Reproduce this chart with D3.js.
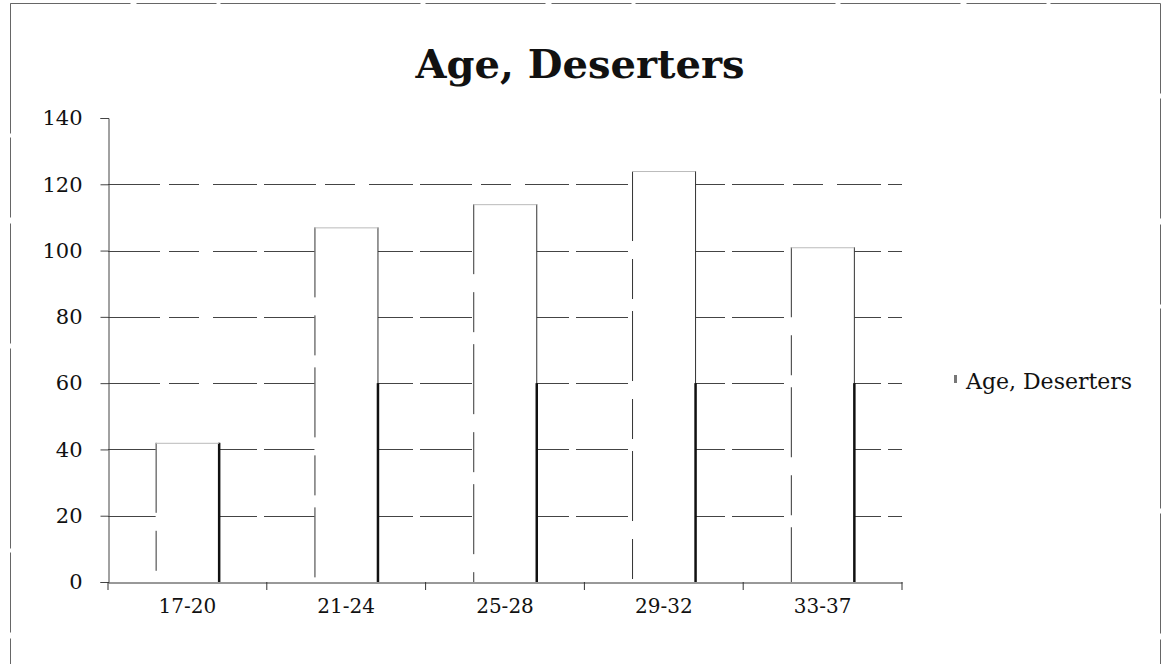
<!DOCTYPE html>
<html>
<head>
<meta charset="utf-8">
<script src="https://cdn.jsdelivr.net/npm/d3@7"></script>
<style>
  html, body { margin: 0; padding: 0; background: #fff; }
  svg { display: block; }
  text { font-family: "DejaVu Serif", "Liberation Serif", serif; fill: #111; }
</style>
</head>
<body>
<svg id="chart" width="1169" height="664"></svg>
<script>
// Age groups of deserters and the number in each group
const categories = ["17-20", "21-24", "25-28", "29-32", "33-37"];
const deserters = [42, 107, 114, 124, 101];
const yTicks = [0, 20, 40, 60, 80, 100, 120, 140];
const seriesName = "Age, Deserters";

const svg = d3.select("#chart");
const plot = { left: 108, right: 902, top: 118, bottom: 582 };
const serif = "DejaVu Serif, Liberation Serif, serif";

// outer frame of the chart area
svg.append("rect")
  .attr("x", 10.5).attr("y", 3.5).attr("width", 1150).attr("height", 680)
  .attr("fill", "none").attr("stroke", "#666").attr("stroke-width", 1)
  .attr("stroke-dasharray", "120 6 80 4 200 5");

const x = d3.scaleBand().domain(categories).range([plot.left, plot.right]).padding(0);
const y = d3.scaleLinear().domain([0, 140]).range([plot.bottom, plot.top]);

// horizontal gridlines
svg.append("g")
  .selectAll("line")
  .data(yTicks.filter(v => v > 0 && v < 140))
  .join("line")
  .attr("x1", plot.left).attr("x2", plot.right)
  .attr("y1", d => Math.round(y(d)) + 0.5).attr("y2", d => Math.round(y(d)) + 0.5)
  .attr("stroke", "#444").attr("stroke-width", 1)
  .attr("stroke-dasharray", "52 9 30 14 44 7");

// bars
const barFrac = 0.4;
const barW = x.bandwidth() * barFrac;
const left = d => x(d.c) + (x.bandwidth() - barW) / 2;
const right = d => x(d.c) + (x.bandwidth() + barW) / 2;
const bars = svg.append("g").selectAll("g")
  .data(categories.map((c, i) => ({ c, v: deserters[i] })))
  .join("g");

bars.append("rect")
  .attr("x", left)
  .attr("y", d => y(d.v))
  .attr("width", barW)
  .attr("height", d => y(0) - y(d.v))
  .attr("fill", "#fff");

// left edge of each bar
bars.append("line")
  .attr("x1", d => left(d) + 0.5).attr("x2", d => left(d) + 0.5)
  .attr("y1", d => y(d.v)).attr("y2", y(0))
  .attr("stroke", "#333").attr("stroke-width", 1)
  .attr("stroke-dasharray", "70 18 40 12");

// right edge of each bar, heavier toward the base
bars.append("line")
  .attr("x1", right).attr("x2", right)
  .attr("y1", d => y(d.v)).attr("y2", y(0))
  .attr("stroke", "#333").attr("stroke-width", 1);
bars.append("line")
  .attr("x1", right).attr("x2", right)
  .attr("y1", d => y(Math.min(d.v, 60))).attr("y2", y(0))
  .attr("stroke", "#111").attr("stroke-width", 2.5);

// faint top edge
bars.append("line")
  .attr("x1", left).attr("x2", right)
  .attr("y1", d => y(d.v) + 0.5).attr("y2", d => y(d.v) + 0.5)
  .attr("stroke", "#bbb").attr("stroke-width", 1);

// y axis
const yAxis = svg.append("g")
  .attr("transform", `translate(${plot.left + 0.5},0)`)
  .call(d3.axisLeft(y).tickValues(yTicks).tickSize(8).tickPadding(18).tickFormat(d3.format("d")));
yAxis.select(".domain").attr("stroke", "#444");
yAxis.selectAll(".tick line").attr("stroke", "#444");
yAxis.selectAll("text").attr("font-size", 21).attr("fill", "#111").attr("font-family", serif);

// x axis
const xAxis = svg.append("g")
  .attr("transform", `translate(0,${plot.bottom + 0.5})`)
  .call(d3.axisBottom(x).tickSize(0).tickPadding(16));
xAxis.select(".domain").attr("stroke", "#333");
xAxis.selectAll("text").attr("font-size", 20).attr("fill", "#111").attr("font-family", serif);

// category boundary ticks below the x axis
svg.append("g").selectAll("line")
  .data(d3.range(categories.length + 1))
  .join("line")
  .attr("x1", i => i < categories.length ? x(categories[i]) : plot.right)
  .attr("x2", i => i < categories.length ? x(categories[i]) : plot.right)
  .attr("y1", plot.bottom).attr("y2", plot.bottom + 8)
  .attr("stroke", "#333");

// title
svg.append("text")
  .attr("x", 580).attr("y", 78)
  .attr("text-anchor", "middle")
  .attr("font-size", 40).attr("font-weight", "bold")
  .text("Age, Deserters");

// legend
svg.append("rect")
  .attr("x", 954).attr("y", 375).attr("width", 3).attr("height", 8)
  .attr("fill", "#777");
svg.append("text")
  .attr("x", 966).attr("y", 389)
  .attr("font-size", 22)
  .text(seriesName);
</script>
</body>
</html>
